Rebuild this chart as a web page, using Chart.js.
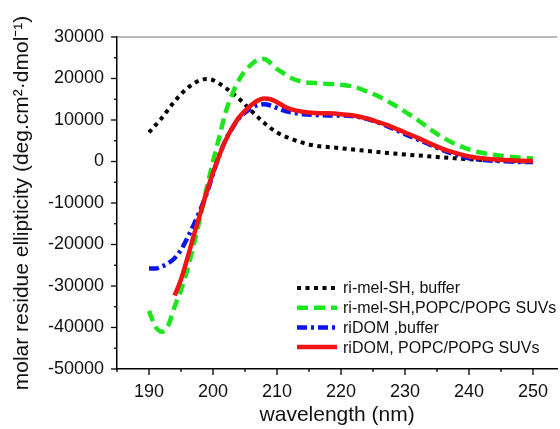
<!DOCTYPE html>
<html>
<head>
<meta charset="utf-8">
<script src="https://cdn.jsdelivr.net/npm/chart.js@4"></script>
<style>
  body { margin: 0; background: #fff; }
  #wrap { width: 560px; height: 429px; }
</style>
</head>
<body>
<div id="wrap"><canvas id="cdChart" width="560" height="429"></canvas></div>
<script>
// ri-mel-SH, buffer
const melBufferX = [190, 192, 194, 196, 198, 199, 200, 202, 204, 206, 208, 210, 212, 215, 220, 225, 230, 235, 240, 245, 250];
const melBufferY = [7000, 10500, 14500, 17700, 19600, 19900, 19600, 17700, 15200, 12200, 9300, 7000, 5600, 4100, 3200, 2400, 1700, 1100, 550, 200, -100];

// ri-mel-SH, POPC/POPG SUVs
const melSuvX = [190, 191, 192, 193, 194, 195, 196, 197, 198, 199, 200, 201, 202, 203, 204, 205, 206, 207, 208, 209, 210, 211, 212, 214, 216, 218, 220, 222, 224, 226, 228, 230, 232, 234, 236, 238, 240, 242, 245, 248, 250];
const melSuvY = [-36000, -39800, -41000, -39500, -35000, -31000, -26000, -20000, -13500, -6500, 0, 6000, 12000, 16200, 19500, 21800, 23400, 24500, 24700, 23700, 22300, 21300, 20300, 19200, 18900, 18700, 18500, 18000, 16900, 15600, 13900, 12000, 10000, 7700, 5700, 4100, 2900, 2100, 1400, 900, 700];

// riDOM, buffer
const domBufferX = [190, 191, 192, 193, 194, 195, 196, 197, 198, 199, 200, 201, 202, 203, 204, 205, 206, 207, 208, 209, 210, 211, 212, 214, 216, 218, 220, 222, 224, 226, 228, 230, 232, 234, 236, 238, 240, 242, 245, 248, 250];
const domBufferY = [-25800, -25800, -25300, -24500, -23300, -21300, -18400, -15200, -11700, -7800, -3000, 1500, 5300, 8000, 10300, 11800, 12900, 13600, 13800, 13500, 12900, 12300, 11900, 11400, 11200, 11100, 11100, 10900, 10300, 9300, 8000, 6600, 5300, 4000, 2700, 1600, 800, 400, 100, -100, -100];

// riDOM, POPC/POPG SUVs
const domSuvX = [194, 195, 196, 197, 198, 199, 200, 201, 202, 203, 204, 205, 206, 207, 208, 209, 210, 211, 212, 214, 216, 218, 220, 222, 224, 226, 228, 230, 232, 234, 236, 238, 240, 242, 245, 248, 250];
const domSuvY = [-32300, -28400, -23300, -17800, -12600, -7400, -2700, 1500, 5200, 8100, 10500, 12200, 13600, 14700, 15200, 15000, 14300, 13400, 12700, 12000, 11700, 11600, 11400, 11100, 10400, 9400, 8300, 7000, 5700, 4300, 3000, 2000, 1200, 800, 400, 200, 100];

const legendLabels = ['ri-mel-SH, buffer', 'ri-mel-SH,POPC/POPG SUVs', 'riDOM ,buffer', 'riDOM, POPC/POPG SUVs'];
const xTicks = [185, 190, 195, 200, 205, 210, 215, 220, 225, 230, 235, 240, 245, 250];

const toPoints = (xs, ys) => xs.map((x, i) => ({ x: x, y: ys[i] }));
const FONT = "'Liberation Sans', Arial, Helvetica, sans-serif";

// ticks outside the axes, long at labelled values, short in between
const axisTicks = {
  id: 'axisTicks',
  afterDraw(chart) {
    const { ctx, chartArea, scales } = chart;
    ctx.save();
    ctx.strokeStyle = '#000';
    ctx.lineWidth = 1.3;
    scales.x.ticks.forEach(t => {
      const px = scales.x.getPixelForValue(t.value);
      const len = t.value % 10 === 0 ? 6 : 3;
      ctx.beginPath();
      ctx.moveTo(px, chartArea.bottom);
      ctx.lineTo(px, chartArea.bottom + len);
      ctx.stroke();
    });
    scales.y.ticks.forEach(t => {
      const py = scales.y.getPixelForValue(t.value);
      const len = t.value % 10000 === 0 ? 6 : 3;
      ctx.beginPath();
      ctx.moveTo(chartArea.left, py);
      ctx.lineTo(chartArea.left - len, py);
      ctx.stroke();
    });
    // grey top frame
    ctx.strokeStyle = '#777';
    ctx.lineWidth = 1.2;
    ctx.beginPath();
    ctx.moveTo(chartArea.left, chartArea.top);
    ctx.lineTo(chartArea.right, chartArea.top);
    ctx.stroke();
    ctx.restore();
  }
};

// legend inside the plot with line samples
const insideLegend = {
  id: 'insideLegend',
  afterDatasetsDraw(chart) {
    const { ctx } = chart;
    const x0 = 297, x1 = 337, y0 = 288, step = 19.7;
    ctx.save();
    ctx.font = '16px ' + FONT;
    ctx.textBaseline = 'middle';
    chart.data.datasets.forEach((ds, i) => {
      const y = y0 + i * step;
      ctx.strokeStyle = ds.borderColor;
      ctx.lineWidth = ds.borderWidth;
      ctx.setLineDash(ds.borderDash || []);
      ctx.beginPath();
      ctx.moveTo(x0, y);
      ctx.lineTo(x1, y);
      ctx.stroke();
      ctx.setLineDash([]);
      ctx.fillStyle = '#111';
      ctx.fillText(legendLabels[i], 343, y + 1);
    });
    ctx.restore();
  }
};

const ctx = document.getElementById('cdChart').getContext('2d');
new Chart(ctx, {
  type: 'line',
  data: {
    datasets: [
      { label: legendLabels[0], data: toPoints(melBufferX, melBufferY), borderColor: '#000', borderWidth: 4, borderDash: [4, 4.5], order: 3 },
      { label: legendLabels[1], data: toPoints(melSuvX, melSuvY), borderColor: '#1ee61e', borderWidth: 4.5, borderDash: [11, 6], order: 2 },
      { label: legendLabels[2], data: toPoints(domBufferX, domBufferY), borderColor: '#0a14f0', borderWidth: 4.5, borderDash: [10, 4, 3, 4], order: 1 },
      { label: legendLabels[3], data: toPoints(domSuvX, domSuvY), borderColor: '#f01414', borderWidth: 4.5, order: 0 }
    ]
  },
  options: {
    responsive: false,
    animation: false,
    events: [],
    layout: { padding: { top: 37, right: 0, left: 0, bottom: 0 } },
    elements: {
      point: { radius: 0 },
      line: { cubicInterpolationMode: 'monotone', fill: false, borderCapStyle: 'butt' }
    },
    plugins: { legend: { display: false }, tooltip: { enabled: false } },
    scales: {
      x: {
        type: 'linear',
        min: 185,
        max: 253.8,
        afterBuildTicks: scale => { scale.ticks = xTicks.map(v => ({ value: v })); },
        afterFit: scale => { scale.height = 60; },
        grid: { display: true, drawOnChartArea: false, drawTicks: false },
        border: { display: true, color: '#000', width: 1.5 },
        ticks: {
          padding: 12,
          color: '#111',
          font: { family: FONT, size: 18 },
          maxRotation: 0,
          autoSkip: false,
          callback: v => (v % 10 === 0 && v >= 190 ? String(v) : '')
        },
        title: {
          display: true,
          text: 'wavelength (nm)',
          color: '#111',
          font: { family: FONT, size: 21, lineHeight: 1 },
          padding: { top: 0, bottom: 3 }
        }
      },
      y: {
        min: -50000,
        max: 30000,
        afterFit: scale => { scale.width = 117; },
        grid: { display: true, drawOnChartArea: false, drawTicks: false },
        border: { display: true, color: '#000', width: 1.5 },
        ticks: {
          stepSize: 5000,
          padding: 13,
          color: '#111',
          font: { family: FONT, size: 18 },
          autoSkip: false,
          callback: v => (v % 10000 === 0 ? String(v) : '')
        },
        title: {
          display: true,
          text: 'molar residue ellipticity (deg.cm²·dmol⁻¹)',
          color: '#111',
          font: { family: FONT, size: 21, lineHeight: 1.2 },
          padding: { top: 10, bottom: 0 }
        }
      }
    }
  },
  plugins: [axisTicks, insideLegend]
});
</script>
</body>
</html>
